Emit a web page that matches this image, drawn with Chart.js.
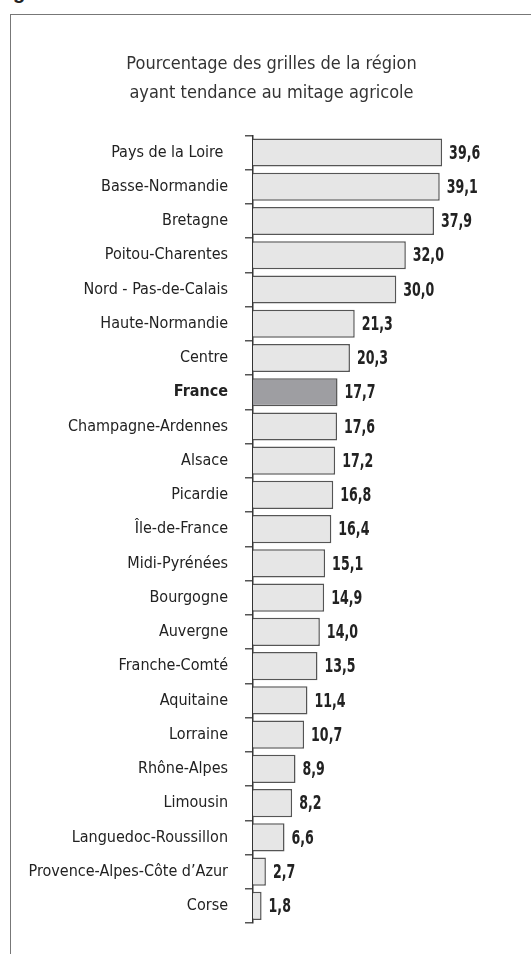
<!DOCTYPE html>
<html>
<head>
<meta charset="utf-8">
<script src="https://cdn.jsdelivr.net/npm/chart.js@4.4.0/dist/chart.umd.min.js"></script>
<style>
  html, body { margin: 0; padding: 0; background: #fff; }
  #wrap { position: relative; width: 531px; height: 954px; overflow: hidden; }
  #frame { position: absolute; left: 10px; top: 14px; right: -10px; bottom: -10px;
           border-left: 1.5px solid #777; border-top: 1.5px solid #777; }
  #cut { position: absolute; left: 13px; top: -19px; font: bold 20px 'Liberation Sans', sans-serif; color: #222; }
  canvas { position: absolute; left: 0; top: 0; }
</style>
</head>
<body>
<div id="wrap">
  <div id="cut">g</div>
  <div id="frame"></div>
  <canvas id="barchart" width="531" height="954"></canvas>
</div>
<script>
var regions = [
  "Pays de la Loire ", "Basse-Normandie", "Bretagne", "Poitou-Charentes",
  "Nord - Pas-de-Calais", "Haute-Normandie", "Centre", "France",
  "Champagne-Ardennes", "Alsace", "Picardie", "Île-de-France",
  "Midi-Pyrénées", "Bourgogne", "Auvergne", "Franche-Comté",
  "Aquitaine", "Lorraine", "Rhône-Alpes", "Limousin",
  "Languedoc-Roussillon", "Provence-Alpes-Côte d\u2019Azur", "Corse"
];
var values = [39.6, 39.1, 37.9, 32.0, 30.0, 21.3, 20.3, 17.7, 17.6, 17.2, 16.8, 16.4,
              15.1, 14.9, 14.0, 13.5, 11.4, 10.7, 8.9, 8.2, 6.6, 2.7, 1.8];
var titleLines = ["Pourcentage des grilles de la région", "ayant tendance au mitage agricole"];
var highlight = "France";

var narrow = "'Liberation Sans Narrow', 'DejaVu Sans Condensed', 'Roboto Condensed', Roboto, sans-serif";

var fills = regions.map(function (r) { return r === highlight ? "#9e9ea2" : "#e6e6e6"; });

// writes the value next to each bar, french decimal comma, squeezed to look condensed
var valueLabels = {
  id: 'valueLabels',
  afterDatasetsDraw: function (chart) {
    var ctx = chart.ctx;
    var meta = chart.getDatasetMeta(0);
    meta.data.forEach(function (bar, i) {
      ctx.save();
      ctx.fillStyle = "#222";
      ctx.textBaseline = "middle";
      ctx.textAlign = "left";
      ctx.font = "bold 20px " + narrow;
      ctx.translate(bar.x + 7, bar.y + 1);
      ctx.scale(0.7, 1);
      ctx.fillText(values[i].toFixed(1).replace(".", ","), 0, 0);
      ctx.restore();
    });
  }
};

var ctx = document.getElementById("barchart");
var myChart = new Chart(ctx, {
  type: 'bar',
  data: {
    labels: regions,
    datasets: [{
      data: values,
      backgroundColor: fills,
      borderColor: "#555",
      borderWidth: 1.5,
      barPercentage: 0.82,
      categoryPercentage: 1.0
    }]
  },
  options: {
    indexAxis: 'y',
    responsive: false,
    animation: false,
    layout: { padding: { top: 50, left: 13, right: 1, bottom: 31 } },
    plugins: {
      legend: { display: false },
      tooltip: { enabled: false },
      title: {
        display: true,
        text: titleLines,
        color: "#333",
        font: { family: narrow, size: 18, weight: 'normal', lineHeight: 1.62 },
        padding: { top: 0, bottom: 27 }
      }
    },
    scales: {
      x: { display: false, min: 0, max: 58 },
      y: {
        afterFit: function (scale) { scale.width = 240; },
        border: { display: true, color: "#333", width: 1.5 },
        grid: { drawOnChartArea: false, offset: true, tickLength: 8, color: "#555", lineWidth: 1.5 },
        ticks: {
          color: "#222",
          padding: 17,
          font: function (c) {
            var lab = c.tick ? c.tick.label : "";
            return { family: narrow, size: 16, weight: lab === highlight ? 'bold' : '500' };
          }
        }
      }
    }
  },
  plugins: [valueLabels]
});
</script>
</body>
</html>
